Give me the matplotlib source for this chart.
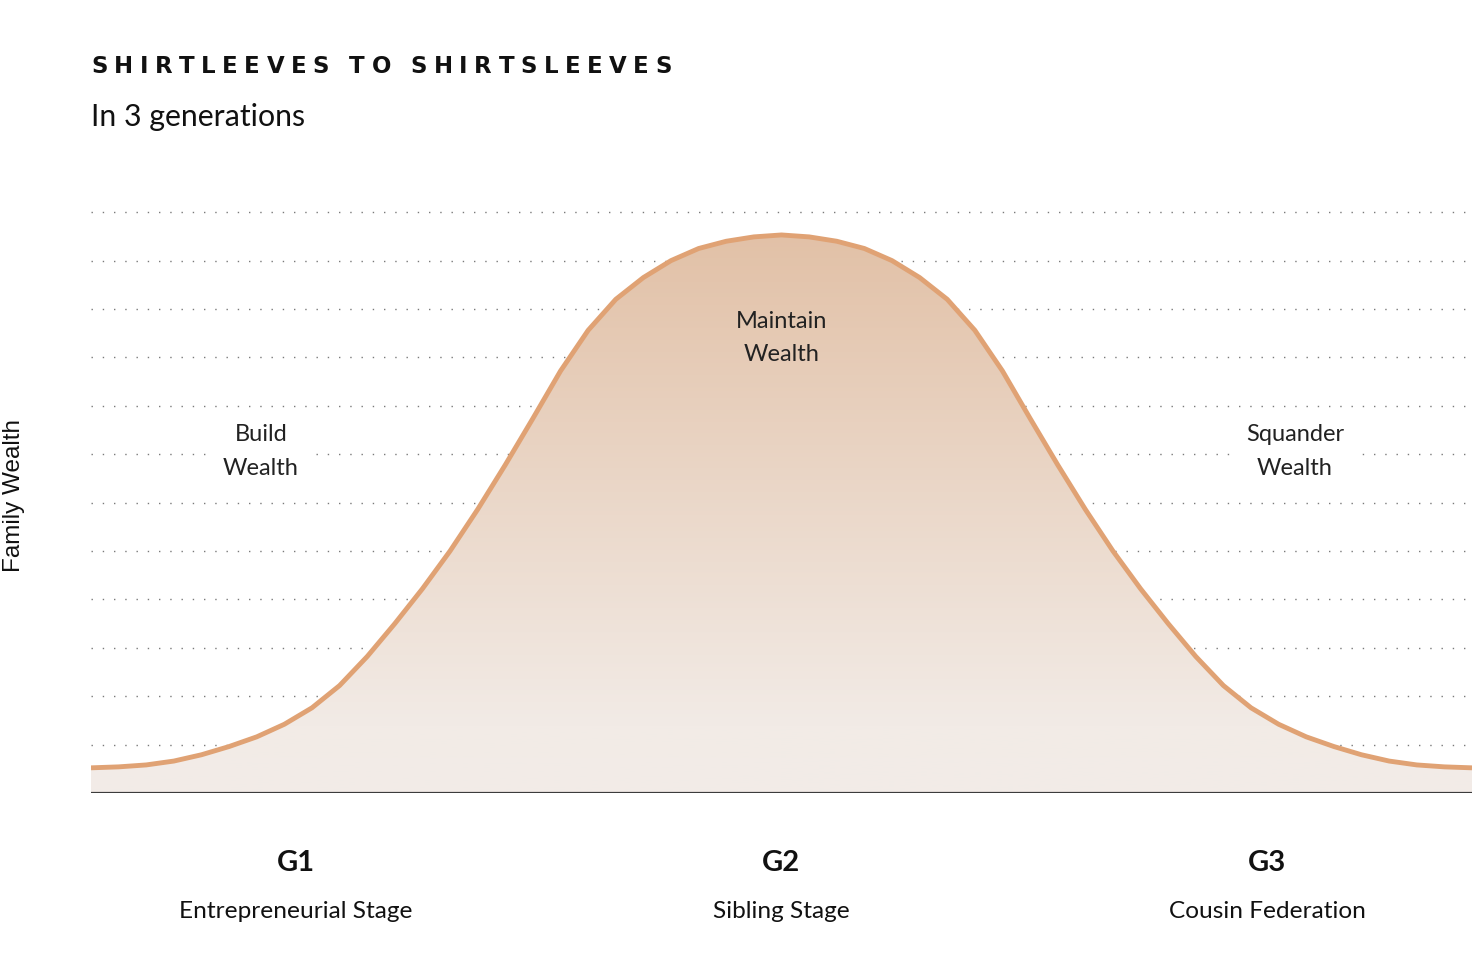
import numpy as np
import matplotlib
matplotlib.use('Agg')
from matplotlib import pyplot as plt
from matplotlib.colors import LinearSegmentedColormap
from matplotlib.font_manager import FontProperties

# curve: x in % of the axis width, y in grid steps
wealth_x = [0, 2, 4, 6, 8, 10, 12, 14, 16, 18, 20, 22, 24, 26, 28, 30, 32, 34,
            36, 38, 40, 42, 44, 46, 48, 50, 52, 54, 56, 58, 60, 62, 64, 66, 68,
            70, 72, 74, 76, 78, 80, 82, 84, 86, 88, 90, 92, 94, 96, 98, 100]
wealth_y = [0.52, 0.54, 0.58, 0.66, 0.79, 0.96, 1.16, 1.42, 1.76, 2.22, 2.82,
            3.50, 4.22, 5.00, 5.86, 6.78, 7.74, 8.72, 9.56, 10.20, 10.65, 11.00,
            11.25, 11.40, 11.49, 11.53, 11.49, 11.40, 11.25, 11.00, 10.65, 10.20,
            9.56, 8.72, 7.74, 6.78, 5.86, 5.00, 4.22, 3.50, 2.82, 2.22, 1.76,
            1.42, 1.16, 0.96, 0.79, 0.66, 0.58, 0.54, 0.52]
grid_levels = [1, 2, 3, 4, 5, 6, 7, 8, 9, 10, 11, 12]

generations = ['G1', 'G2', 'G3']
stages = ['Entrepreneurial Stage', 'Sibling Stage', 'Cousin Federation']
gen_x = [14.84, 50, 85.16]

phase_labels = ['Build\nWealth', 'Maintain\nWealth', 'Squander\nWealth']
phase_x = [12.31, 50, 87.18]
phase_y = [7.05, 9.4, 7.05]

title = 'SHIRTLEEVES TO SHIRTSLEEVES'
subtitle = 'In 3 generations'

W, H = 1476, 967
fig = plt.figure(figsize=(W / 100, H / 100), dpi=100)
ax = fig.add_axes([91 / W, 1 - 793 / H, 1381 / W, 12.5 * 48.4 / H])
ax.set_xlim(0, 100)
ax.set_ylim(0, 12.5)
ax.axis('off')

# dotted guide lines
for lv in grid_levels:
    ax.plot([0, 100], [lv, lv], color='#7a7a7a', lw=1.0,
            linestyle=(0, (1, 7.1)), zorder=1)

# gradient fill under the curve
poly = ax.fill_between(wealth_x, 0, wealth_y, color='none', lw=0, zorder=2)
cmap = LinearSegmentedColormap.from_list(
    'sand', [(0, '#f2ece8'), (0.12, '#f2ebe6'), (1, '#e2c1a7')])
grad = np.linspace(0, 1, 256).reshape(-1, 1)
im = ax.imshow(grad, cmap=cmap, aspect='auto', origin='lower',
               extent=[0, 100, 0, max(wealth_y)], zorder=2)
im.set_clip_path(poly.get_paths()[0], transform=ax.transData)

ax.plot(wealth_x, wealth_y, color='#e0a274', lw=3.5, zorder=3,
        solid_capstyle='butt', solid_joinstyle='round')
ax.plot([0, 100], [0, 0], color='#3c3c3c', lw=1.6, zorder=4,
        solid_capstyle='butt')

for i, lab in enumerate(phase_labels):
    boxed = i != 1
    ax.text(phase_x[i], phase_y[i], lab, ha='center', va='center',
            family='Lato', fontsize=17, color='#222222', linespacing=1.75,
            zorder=5,
            bbox=dict(facecolor='white', edgecolor='none', pad=8) if boxed else None)

for i in range(3):
    xf = (91 + gen_x[i] * 13.81) / W
    fig.text(xf, 1 - 863 / H, generations[i], ha='center', va='center',
             family='Lato', weight='bold', fontsize=21, color='#111111')
    fig.text(xf, 1 - 911 / H, stages[i], ha='center', va='center',
             family='Lato', fontsize=17.6, color='#111111')

fig.text(14 / W, 1 - 496 / H, 'Family Wealth', rotation=90, ha='center',
         va='center', family='Liberation Sans', fontsize=17.5, color='#111111')

fig.text(91 / W, 1 - 117 / H, subtitle, ha='left', va='center',
         family='Lato', fontsize=21.8, color='#111111')

# letter-spaced title
fp = FontProperties(family='DejaVu Sans', weight='bold', size=16.5)
renderer = fig.canvas.get_renderer()
widths = []
for ch in title:
    if ch == ' ':
        widths.append(fp.get_size_in_points() * 0.3 / 0.72)
    else:
        w, h, d = renderer.get_text_width_height_descent(ch, fp, ismath=False)
        widths.append(w)
span = 672 - 91
track = (span - sum(widths)) / (len(title) - 1)
xpos = 91.0
for ch, w in zip(title, widths):
    if ch != ' ':
        fig.text(xpos / W, 1 - 73 / H, ch, ha='left', va='baseline',
                 fontproperties=fp, color='#111111')
    xpos += w + track

fig.savefig('out.png', dpi=100, facecolor='white')
